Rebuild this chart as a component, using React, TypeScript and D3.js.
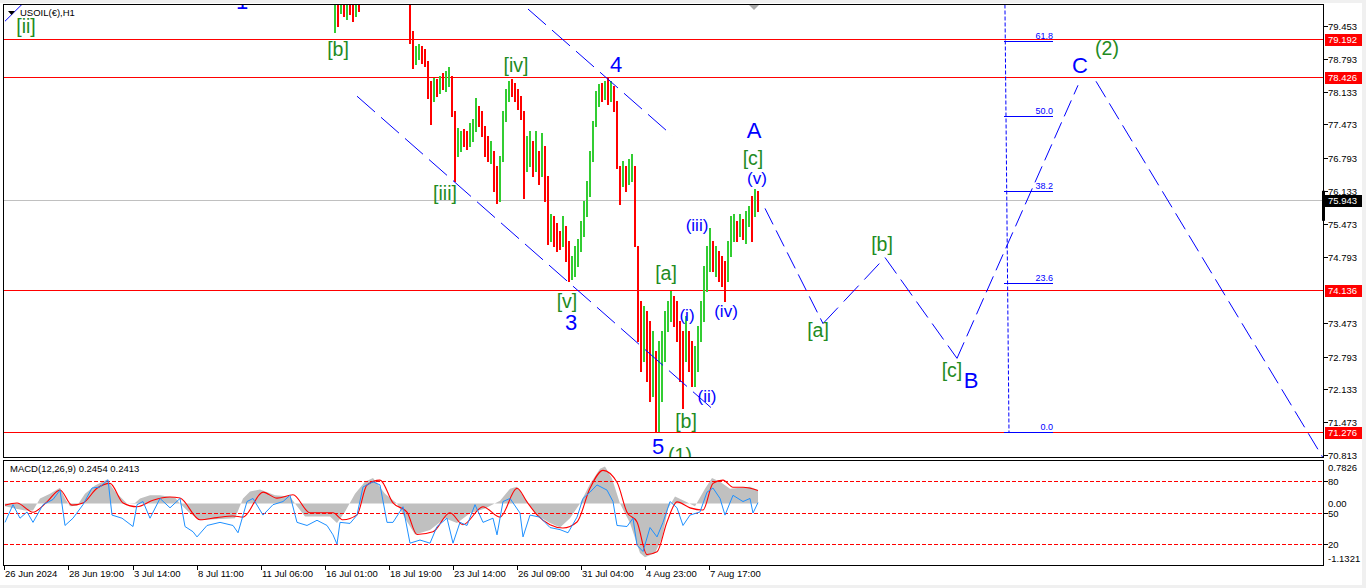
import React from "react";
import * as d3 from "d3";

const W = 1366;
const H = 588;

// ---------- axis data ----------
const priceTicks = [79.453, 78.793, 78.133, 77.473, 76.793, 76.133, 75.473, 74.793, 73.473, 72.793, 72.133, 71.473, 70.813];
const redLevels = [79.192, 78.426, 74.136, 71.276];
const lastPrice = 75.943;
const timeLabels = ["26 Jun 2024", "28 Jun 19:00", "3 Jul 14:00", "8 Jul 11:00", "11 Jul 06:00", "16 Jul 01:00", "18 Jul 19:00", "23 Jul 14:00", "26 Jul 09:00", "31 Jul 04:00", "4 Aug 23:00", "7 Aug 17:00"];
const timeLabelBars = [0, 64, 129, 193, 257, 321, 385, 449, 513, 577, 641, 705];

// ---------- candles (aggregated 3 hourly bars each), [open, high, low, close] ----------
const candlePitch = 3;
const earlyStartBar = 330;
const candlesEarly: [number, number, number, number][] = [
  [79.55, 80.10, 79.34, 79.95], [79.95, 80.15, 79.46, 79.60], [79.75, 80.20, 79.72, 80.05],
  [80.05, 80.10, 79.66, 79.75], [79.75, 80.15, 79.60, 80.00], [80.00, 80.05, 79.70, 79.80],
  [79.80, 79.95, 79.56, 79.65], [79.70, 80.10, 79.66, 79.95], [79.95, 80.05, 79.76, 79.85],
];
const mainStartBar = 402;
const candlesMain: [number, number, number, number][] = [
  [80.40, 80.50, 79.95, 80.00], [79.95, 80.05, 79.12, 79.20], [79.30, 79.36, 78.61, 78.70],
  [78.70, 79.06, 78.69, 79.00], [79.00, 79.10, 78.79, 79.05], [79.05, 79.06, 78.71, 78.80],
  [78.80, 79.00, 78.65, 78.70], [78.70, 78.75, 78.01, 78.10], [78.10, 78.35, 77.48, 77.90],
  [77.98, 78.41, 77.95, 78.30], [78.30, 78.39, 78.05, 78.10], [78.12, 78.45, 78.11, 78.40],
  [78.40, 78.51, 78.19, 78.25], [78.25, 78.55, 78.15, 78.45], [78.45, 78.63, 78.25, 78.55],
  [78.45, 78.45, 77.64, 77.70], [77.70, 77.75, 76.33, 76.90], [76.90, 77.40, 76.84, 77.25],
  [77.00, 77.34, 76.94, 77.30], [77.30, 77.38, 77.04, 77.10], [77.10, 77.34, 76.98, 77.05],
  [77.05, 77.50, 77.04, 77.40], [77.40, 77.58, 77.14, 77.50], [77.50, 78.01, 77.34, 77.90],
  [77.80, 77.85, 77.44, 77.50], [77.50, 77.75, 77.24, 77.30], [77.30, 77.44, 76.84, 76.95],
  [76.95, 77.24, 76.74, 76.80], [76.80, 77.14, 76.70, 77.05], [76.94, 76.94, 76.13, 76.30],
  [76.30, 76.64, 75.89, 76.00], [76.00, 76.84, 75.93, 76.70], [76.75, 77.75, 76.74, 77.60],
  [77.60, 78.19, 77.54, 78.10], [78.10, 78.35, 77.95, 78.30], [78.30, 78.39, 78.05, 78.10],
  [78.10, 78.31, 77.95, 78.00], [78.00, 78.19, 77.79, 77.85], [77.85, 78.05, 77.58, 77.65],
  [77.65, 77.75, 75.99, 76.30], [76.55, 77.24, 76.53, 77.10], [76.70, 77.34, 76.64, 77.20],
  [77.10, 77.14, 76.43, 76.60], [76.60, 77.34, 76.53, 77.10], [76.94, 76.94, 76.27, 76.40],
  [76.45, 77.30, 76.43, 77.10], [77.04, 77.04, 75.93, 76.10], [76.10, 76.43, 75.06, 75.30],
  [75.30, 75.67, 75.12, 75.55], [75.55, 75.63, 75.02, 75.20], [75.20, 75.49, 74.92, 75.00],
  [75.30, 75.33, 74.96, 75.05], [75.05, 75.63, 75.02, 75.50], [75.43, 75.43, 74.72, 74.85],
  [74.85, 75.12, 74.32, 74.45], [74.45, 74.82, 74.36, 74.70], [74.70, 75.02, 74.42, 74.90],
  [74.80, 75.16, 74.62, 75.05], [75.00, 75.53, 74.92, 75.45], [75.45, 75.93, 75.23, 75.85],
  [75.85, 76.33, 75.63, 76.25], [76.25, 76.94, 76.03, 76.85], [76.85, 77.54, 76.74, 77.45],
  [77.45, 78.15, 77.44, 78.05], [78.05, 78.29, 77.85, 78.20], [78.20, 78.31, 77.95, 78.05],
  [78.05, 78.35, 77.99, 78.25], [78.25, 78.41, 77.89, 78.00], [78.00, 78.35, 77.95, 78.25],
  [78.25, 78.25, 77.75, 77.85], [77.85, 77.95, 76.60, 76.80], [76.64, 76.64, 75.87, 76.10],
  [76.25, 76.74, 76.23, 76.60], [76.60, 76.64, 76.13, 76.25], [76.30, 76.78, 76.27, 76.70],
  [76.40, 76.88, 76.33, 76.80], [76.64, 76.64, 75.02, 75.30], [75.02, 75.02, 73.11, 73.40],
  [73.40, 73.91, 72.50, 72.80], [72.80, 73.81, 72.70, 73.60], [73.60, 73.71, 72.30, 72.50],
  [73.40, 73.51, 71.90, 72.10], [72.10, 73.31, 72.00, 73.10], [72.90, 72.91, 71.28, 71.50],
  [71.50, 73.11, 71.29, 72.90], [72.00, 73.31, 71.90, 73.20], [72.80, 73.71, 72.70, 73.60],
  [73.40, 73.91, 73.31, 73.85], [73.55, 74.12, 73.51, 74.00], [74.00, 74.02, 73.41, 73.50],
  [73.80, 73.91, 73.11, 73.20], [73.50, 73.51, 72.30, 72.50], [73.20, 73.31, 71.76, 72.20],
  [72.75, 73.61, 72.70, 73.50], [73.30, 73.31, 72.50, 72.60], [73.00, 73.11, 72.20, 72.40],
  [72.30, 73.01, 72.20, 72.90], [72.60, 73.41, 72.50, 73.30], [73.20, 73.91, 73.11, 73.80],
  [73.60, 74.62, 73.51, 74.50], [74.20, 75.02, 74.12, 74.90], [74.60, 75.39, 74.52, 75.30],
  [75.10, 75.12, 74.52, 74.60], [74.50, 75.02, 74.42, 74.95], [74.90, 74.92, 74.32, 74.40],
  [74.80, 74.82, 74.22, 74.30], [74.70, 74.72, 73.91, 74.10], [74.40, 75.12, 74.32, 75.00],
  [74.90, 75.63, 74.82, 75.50], [75.20, 75.67, 75.12, 75.60], [75.50, 75.53, 75.12, 75.20],
  [75.25, 75.67, 75.23, 75.60], [75.55, 75.57, 75.16, 75.25], [75.10, 75.73, 75.08, 75.65],
  [75.45, 75.83, 75.43, 75.75], [75.95, 76.03, 75.12, 75.40], [75.65, 76.17, 75.63, 76.05],
  [76.05, 76.13, 75.73, 75.94],
];

// ---------- MACD pane: [hour index, value] ----------
const macdHist: [number, number][] = [
  [1, -0.05], [11, -0.09], [21, -0.13], [29, -0.13], [36, 0.09], [46, 0.18], [56, 0.29], [61, 0.09],
  [66, -0.05], [73, -0.04], [81, 0.18], [91, 0.33], [103, 0.44], [111, 0.22], [123, 0.0], [131, 0.01],
  [136, 0.09], [146, 0.15], [156, 0.15], [171, 0.11], [176, 0.0], [186, -0.18], [196, -0.31], [211, -0.29],
  [231, -0.27], [239, 0.09], [246, 0.22], [256, 0.26], [271, 0.15], [286, 0.13], [291, 0.0], [301, -0.24],
  [326, -0.24], [333, -0.36], [341, -0.15], [351, 0.18], [361, 0.4], [369, 0.47], [381, 0.18], [393, 0.0],
  [401, -0.27], [411, -0.57], [426, -0.49], [441, -0.27], [453, -0.36], [466, -0.18], [481, -0.09],
  [496, 0.05], [506, 0.27], [513, 0.31], [521, 0.09], [533, -0.22], [546, -0.36], [556, -0.44],
  [566, -0.27], [576, 0.0], [586, 0.36], [596, 0.64], [601, 0.68], [608, 0.46], [616, 0.0], [626, -0.36],
  [636, -0.91], [641, -0.99], [651, -0.91], [658, -0.64], [664, -0.09], [671, 0.13], [681, 0.04],
  [691, -0.05], [701, 0.27], [708, 0.47], [716, 0.4], [726, 0.27], [736, 0.29], [746, 0.31], [754, 0.2454],
];
const macdSignal: [number, number][] = [
  [1, -0.03], [13, 0.01], [29, -0.16], [43, 0.03], [56, 0.25], [68, -0.03], [79, 0.01], [93, 0.28],
  [106, 0.37], [119, 0.01], [133, -0.06], [149, 0.06], [166, 0.12], [176, 0.1], [196, -0.3], [213, -0.26],
  [229, -0.23], [239, -0.25], [259, 0.21], [273, 0.1], [289, 0.16], [306, -0.17], [329, -0.17], [339, -0.3],
  [353, -0.21], [363, 0.34], [376, 0.43], [389, 0.01], [403, -0.16], [413, -0.57], [429, -0.52],
  [446, -0.17], [459, -0.39], [479, -0.06], [496, -0.25], [513, 0.28], [523, 0.03], [533, -0.21],
  [546, -0.39], [559, -0.45], [573, -0.34], [586, 0.28], [599, 0.61], [613, 0.39], [623, -0.16],
  [633, -0.34], [643, -0.94], [653, -0.89], [663, -0.34], [673, 0.03], [686, -0.08], [699, -0.12],
  [709, 0.37], [719, 0.43], [729, 0.3], [739, 0.3], [754, 0.2413],
];
const oscLine: [number, number][] = [
  [1, 41], [9, 58], [16, 45], [23, 51], [29, 41], [39, 58], [49, 63], [56, 72], [61, 38], [69, 45],
  [79, 58], [88, 74], [96, 75], [104, 82], [108, 48], [118, 45], [129, 37], [133, 58], [139, 61],
  [146, 45], [156, 64], [166, 55], [176, 64], [181, 37], [189, 32], [193, 27], [203, 38], [216, 41],
  [229, 38], [234, 31], [243, 61], [249, 64], [259, 48], [269, 58], [279, 61], [286, 67], [293, 41],
  [303, 38], [313, 43], [323, 38], [329, 29], [333, 20], [336, 41], [346, 40], [353, 48], [359, 75],
  [369, 80], [376, 77], [383, 41], [389, 41], [399, 56], [406, 21], [416, 24], [426, 21], [433, 37],
  [443, 45], [449, 21], [456, 41], [463, 38], [471, 58], [479, 41], [489, 45], [493, 29], [499, 61],
  [506, 64], [516, 50], [519, 27], [526, 48], [536, 46], [546, 36], [556, 34], [564, 31], [573, 46],
  [579, 64], [586, 70], [593, 77], [603, 72], [609, 61], [613, 38], [623, 37], [629, 45], [633, 19],
  [639, 13], [646, 36], [653, 27], [659, 41], [666, 61], [673, 55], [679, 38], [686, 48], [696, 51],
  [703, 70], [709, 74], [716, 64], [721, 48], [729, 67], [739, 61], [746, 64], [749, 50], [754, 60],
];
const oscLevels = [80, 50, 20];

// ---------- drawn objects: [hour, price] ----------
const channelLines: [number, number][][] = [
  [[500, 80.23], [668, 77.26]],
  [[353, 78.05], [708, 71.76]],
  [[1, 79.56], [19, 79.92]],
];
const projectionPaths: [number, number][][] = [
  [[761, 75.79], [819, 73.47], [881, 74.8], [953, 72.77], [1074, 78.27]],
  [[1092, 78.35], [1330, 70.4]],
];
const fibHigh = 84.006;
const fibLow = 71.276;
const fibLevels = [61.8, 50.0, 38.2, 23.6, 0.0];
const fibAnchorBars = [999, 1005];
const fibLevelBars = [1000, 1049];

type Lbl = { t: string; bar: number; price: number; kind: "g" | "b" | "s" };
const waveLabels: Lbl[] = [
  { t: "[ii]", bar: 22, price: 79.46, kind: "g" },
  { t: "[b]", bar: 334, price: 79.0, kind: "g" },
  { t: "[iv]", bar: 512, price: 78.67, kind: "g" },
  { t: "[iii]", bar: 441, price: 76.11, kind: "g" },
  { t: "[v]", bar: 563, price: 73.93, kind: "g" },
  { t: "[a]", bar: 662, price: 74.48, kind: "g" },
  { t: "[b]", bar: 682, price: 71.51, kind: "g" },
  { t: "[c]", bar: 749, price: 76.8, kind: "g" },
  { t: "[a]", bar: 814, price: 73.35, kind: "g" },
  { t: "[b]", bar: 878, price: 75.08, kind: "g" },
  { t: "[c]", bar: 948, price: 72.54, kind: "g" },
  { t: "(1)", bar: 676, price: 70.83, kind: "g" },
  { t: "(2)", bar: 1103, price: 79.02, kind: "g" },
  { t: "1", bar: 238, price: 79.95, kind: "b" },
  { t: "4", bar: 612, price: 78.69, kind: "b" },
  { t: "3", bar: 567, price: 73.49, kind: "b" },
  { t: "5", bar: 654, price: 71.0, kind: "b" },
  { t: "A", bar: 750, price: 77.36, kind: "b" },
  { t: "B", bar: 967, price: 72.32, kind: "b" },
  { t: "C", bar: 1076, price: 78.67, kind: "b" },
  { t: "(v)", bar: 753, price: 76.4, kind: "s" },
  { t: "(iii)", bar: 693, price: 75.45, kind: "s" },
  { t: "(i)", bar: 683, price: 73.63, kind: "s" },
  { t: "(ii)", bar: 703, price: 72.0, kind: "s" },
  { t: "(iv)", bar: 722, price: 73.71, kind: "s" },
];

const FONT = "'Liberation Sans', Arial, sans-serif";
const GREEN_TXT = "#228b22";
const BLUE = "#0000ff";
const BULL = "#32cd32";
const BEAR = "#ff0000";

function gdiDash(x1: number, y1: number, x2: number, y2: number, on: number, off: number) {
  const dx = Math.abs(x2 - x1), dy = Math.abs(y2 - y1);
  const f = Math.hypot(dx, dy) / Math.max(dx, dy, 1e-6);
  return `${(on * f).toFixed(2)},${(off * f).toFixed(2)}`;
}

export default function App() {
  const L = 3.5, R = 1323.5, T = 4.5, B = 457.5;
  const MT = 460.5, MB = 565.5;

  const x = d3.scaleLinear().domain([0, 1319]).range([4, 1323]);
  const y = d3.scaleLinear().domain([79.192, 71.276]).range([39.5, 432.5]);
  const ym = d3.scaleLinear().domain([-1.1321, 0.7826]).range([565, 461]);
  const yo = d3.scaleLinear().domain([0, 100]).range([565, 461]);
  const crisp = (v: number) => Math.round(v - 0.5) + 0.5;

  const histArea = d3.area<[number, number]>().x((d) => x(d[0])).y0(ym(0)).y1((d) => ym(d[1]));
  const sigLine = d3.line<[number, number]>().x((d) => x(d[0])).y((d) => ym(d[1])).curve(d3.curveMonotoneX);
  const oscPath = d3.line<[number, number]>().x((d) => x(d[0])).y((d) => yo(d[1]));

  const candleRects = (arr: [number, number, number, number][], start: number) =>
    arr.map((c, k) => {
      const b = start + k * candlePitch;
      const x0 = x(b);
      const w = x(b + candlePitch) - x0 - 1;
      const top = Math.round(y(c[1]) - 0.5);
      const bot = Math.round(y(c[2]) - 0.5) + 1;
      return (
        <rect key={`${start}-${k}`} x={x0} y={top} width={w} height={Math.max(1, bot - top)}
          fill={c[3] >= c[0] ? BULL : BEAR} shapeRendering="crispEdges" />
      );
    });

  const lblStyle = (k: Lbl["kind"]) =>
    k === "g" ? { size: 19.5, fill: GREEN_TXT } : k === "b" ? { size: 22, fill: BLUE } : { size: 17, fill: BLUE };

  const fibY = (lvl: number) => y(fibLow + ((fibHigh - fibLow) * lvl) / 100);

  return (
    <div style={{ position: "absolute", left: 0, top: 0 }}>
      <svg width={W} height={H} style={{ display: "block", fontFamily: FONT }}>
        <defs>
          <clipPath id="mainClip"><rect x={4} y={5} width={1319} height={452} /></clipPath>
          <clipPath id="macdClip"><rect x={4} y={461} width={1319} height={104} /></clipPath>
        </defs>
        <rect x={0} y={0} width={W} height={H} fill="#f0f0f0" />
        <rect x={0} y={3} width={1362} height={582} fill="#ffffff" />

        {/* main pane */}
        <g clipPath="url(#mainClip)">
          {redLevels.map((p) => (
            <line key={p} x1={L} x2={R} y1={crisp(y(p))} y2={crisp(y(p))} stroke="#ff0000" strokeWidth={1} shapeRendering="crispEdges" />
          ))}
          <line x1={L} x2={R} y1={crisp(y(lastPrice))} y2={crisp(y(lastPrice))} stroke="#c0c0c0" strokeWidth={1} shapeRendering="crispEdges" />
          {candleRects(candlesEarly, earlyStartBar)}
          {candleRects(candlesMain, mainStartBar)}

          {channelLines.map((ln, i) => {
            const [a, b] = ln;
            const x1 = x(a[0]), y1 = y(a[1]), x2 = x(b[0]), y2 = y(b[1]);
            return <line key={`ch${i}`} x1={x1} y1={y1} x2={x2} y2={y2} stroke={BLUE} strokeWidth={1}
              strokeDasharray={i === 2 ? undefined : gdiDash(x1, y1, x2, y2, 18, 6)} />;
          })}
          {projectionPaths.map((pts, i) =>
            pts.slice(1).map((p, j) => {
              const a = pts[j];
              const x1 = x(a[0]), y1 = y(a[1]), x2 = x(p[0]), y2 = y(p[1]);
              return <line key={`pj${i}-${j}`} x1={x1} y1={y1} x2={x2} y2={y2} stroke={BLUE} strokeWidth={1}
                strokeDasharray={gdiDash(x1, y1, x2, y2, 16, 6)} />;
            })
          )}

          {/* fibonacci */}
          <line x1={x(fibAnchorBars[0])} y1={y(fibHigh)} x2={x(fibAnchorBars[1])} y2={y(fibLow)}
            stroke={BLUE} strokeWidth={1} strokeDasharray="4,2" />
          {fibLevels.map((lv) => (
            <g key={lv}>
              <line x1={x(fibLevelBars[0])} x2={x(fibLevelBars[1])} y1={crisp(fibY(lv))} y2={crisp(fibY(lv))}
                stroke={BLUE} strokeWidth={1} shapeRendering="crispEdges" />
              <text x={x(fibLevelBars[1])} y={crisp(fibY(lv)) - 2.5} fontSize={9} fill={BLUE} textAnchor="end">
                {lv.toFixed(1)}
              </text>
            </g>
          ))}

          {waveLabels.map((l, i) => {
            const s = lblStyle(l.kind);
            return (
              <text key={`wl${i}`} x={x(l.bar)} y={y(l.price)} fontSize={s.size} fill={s.fill}
                textAnchor="middle" dominantBaseline="central">{l.t}</text>
            );
          })}

          {/* chart shift marker */}
          <polygon points={`${x(745)},5 ${x(755)},5 ${x(750)},10`} fill="#a9a9a9" />
        </g>

        {/* title */}
        <polygon points="8,11 15,11 11.5,15" fill="#000" />
        <text x={20} y={16} fontSize={9.5} fill="#000">USOIL(€),H1</text>

        {/* pane frames */}
        <rect x={L} y={T - 0.5} width={R - L} height={B - T + 0.5} fill="none" stroke="#000" strokeWidth={1} shapeRendering="crispEdges" />
        <rect x={L} y={MT} width={R - L} height={MB - MT} fill="none" stroke="#000" strokeWidth={1} shapeRendering="crispEdges" />

        {/* price axis */}
        {priceTicks.map((p) => (
          <g key={p}>
            <line x1={R} x2={R + 4} y1={crisp(y(p))} y2={crisp(y(p))} stroke="#000" shapeRendering="crispEdges" />
            <text x={1328} y={y(p)} fontSize={9.5} fill="#000" dominantBaseline="central">{p.toFixed(3)}</text>
          </g>
        ))}
        {redLevels.map((p) => (
          <g key={`rb${p}`}>
            <rect x={1325} y={Math.round(y(p)) - 6} width={37} height={12} fill="#ff0000" />
            <text x={1328} y={y(p)} fontSize={9.5} fill="#fff" dominantBaseline="central">{p.toFixed(3)}</text>
          </g>
        ))}
        <rect x={1325} y={Math.round(y(lastPrice)) - 6} width={37} height={12} fill="#000" />
        <text x={1328} y={y(lastPrice)} fontSize={9.5} fill="#fff" dominantBaseline="central">{lastPrice.toFixed(3)}</text>
        <rect x={1322} y={y(lastPrice) - 10} width={3} height={30} fill="#000" />

        {/* MACD pane */}
        <g clipPath="url(#macdClip)">
          <path d={histArea(macdHist) || ""} fill="#c0c0c0" />
          {oscLevels.map((lv) => (
            <line key={lv} x1={L} x2={R} y1={crisp(yo(lv))} y2={crisp(yo(lv))} stroke="#ff0000" strokeDasharray="4,2" shapeRendering="crispEdges" />
          ))}
          <path d={sigLine(macdSignal) || ""} fill="none" stroke="#ff0000" strokeWidth={1.1} />
          <path d={oscPath(oscLine) || ""} fill="none" stroke="#1e90ff" strokeWidth={1} />
        </g>
        <text x={10} y={472} fontSize={9.5} fill="#000">MACD(12,26,9) 0.2454 0.2413</text>
        <text x={1328} y={467} fontSize={9.5} fill="#000" dominantBaseline="central">0.7826</text>
        <text x={1328} y={ym(0)} fontSize={9.5} fill="#000" dominantBaseline="central">0.00</text>
        <text x={1328} y={558} fontSize={9.5} fill="#000" dominantBaseline="central">-1.1321</text>
        {oscLevels.map((lv) => (
          <g key={`ol${lv}`}>
            <line x1={R} x2={R + 4} y1={crisp(yo(lv))} y2={crisp(yo(lv))} stroke="#000" shapeRendering="crispEdges" />
            <text x={1328} y={yo(lv)} fontSize={9.5} fill="#000" dominantBaseline="central">{lv}</text>
          </g>
        ))}

        {/* time axis */}
        {timeLabels.map((t, i) => (
          <g key={t}>
            <line x1={crisp(x(timeLabelBars[i]))} x2={crisp(x(timeLabelBars[i]))} y1={566} y2={570} stroke="#000" shapeRendering="crispEdges" />
            <text x={x(timeLabelBars[i]) + 1} y={577} fontSize={9.5} fill="#000">{t}</text>
          </g>
        ))}
      </svg>
    </div>
  );
}
